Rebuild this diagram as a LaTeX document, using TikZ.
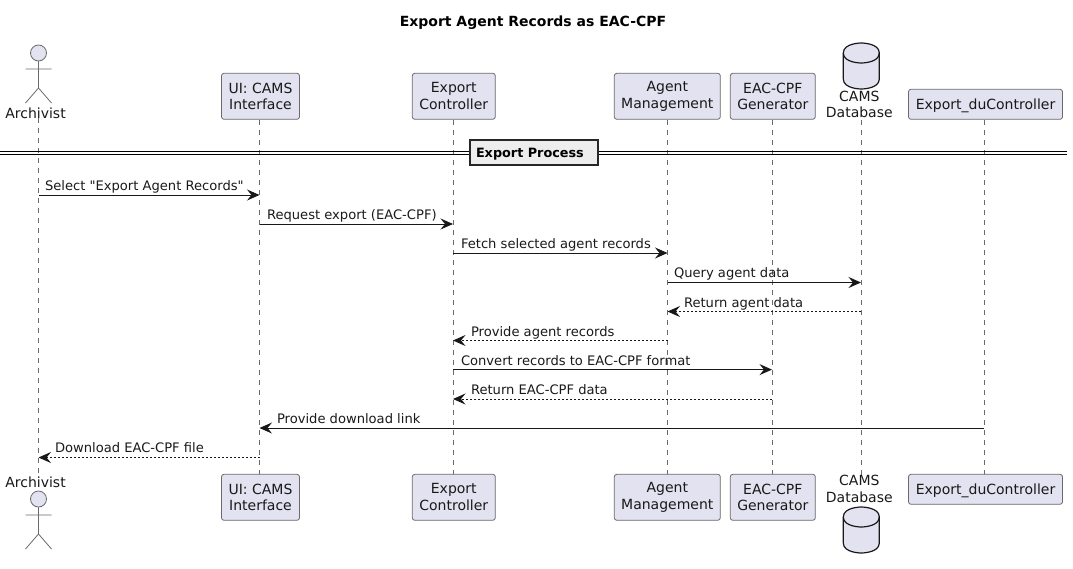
\documentclass[tikz,border=0pt]{standalone}
\usepackage{fontspec}
\newfontfamily\dv{DejaVu Sans}
\usetikzlibrary{arrows.meta}
\definecolor{partfill}{HTML}{E2E2F0}
\definecolor{partline}{HTML}{6A6A6A}
\definecolor{msgline}{HTML}{181818}
\tikzset{
  x=1pt,y=-1pt,
  every node/.style={font=\dv\fontsize{14}{16.7}\selectfont,text=black!90,inner sep=0pt,outer sep=0pt},
  part/.style={draw=partline,fill=partfill,line width=.8pt,rounded corners=2.5pt,align=center,anchor=center},
  actorline/.style={draw=partline,line width=.8pt},
  life/.style={draw=partline,line width=.6pt,dash pattern=on 5pt off 5pt},
  dbshape/.style={draw=msgline,fill=partfill,line width=1.2pt},
  msg/.style={draw=msgline,line width=1pt,-{Stealth[length=12.5pt,width=11pt,inset=4.5pt]}},
  ret/.style={msg,dash pattern=on 2pt off 2pt},
  lab/.style={anchor=base west,font=\dv\fontsize{13.1}{15}\selectfont},
  lbl/.style={align=center,anchor=center},
}
\newcommand{\stick}[2]{%
  \draw[actorline,fill=partfill] (#1,#2+8) circle (8);
  \draw[actorline] (#1,#2+16) -- (#1,#2+43) (#1-13,#2+24) -- (#1+13,#2+24) (#1-13,#2+58) -- (#1,#2+43) -- (#1+13,#2+58);}
\newcommand{\cyl}[2]{%
  \draw[dbshape] (#1-18,#2+10) .. controls (#1-18,#2) and (#1,#2) .. (#1,#2)
    .. controls (#1,#2) and (#1+18,#2) .. (#1+18,#2+10)
    -- (#1+18,#2+36) .. controls (#1+18,#2+46) and (#1,#2+46) .. (#1,#2+46)
    .. controls (#1,#2+46) and (#1-18,#2+46) .. (#1-18,#2+36) -- cycle;
  \draw[dbshape,fill=none] (#1-18,#2+10) .. controls (#1-18,#2+20) and (#1,#2+20) .. (#1,#2+20)
    .. controls (#1,#2+20) and (#1+18,#2+20) .. (#1+18,#2+10);}
\newcommand{\lowered}[1]{\raisebox{-5.2pt}[0pt][0pt]{#1}}
\begin{document}
\begin{tikzpicture}
\useasboundingbox (0,0) rectangle (1073,568);
\node[font=\dv\fontsize{14}{16}\selectfont\bfseries,text=black] (title) at (533,23) {Export Agent Records as EAC-CPF};
% lifelines
\coordinate (a1) at (38.5,118); \coordinate (a2) at (38.5,475);
\coordinate (u1) at (259.5,120); \coordinate (u2) at (259.5,475);
\coordinate (e1) at (453,120); \coordinate (e2) at (453,475);
\coordinate (m1) at (667.5,120); \coordinate (m2) at (667.5,475);
\coordinate (g1) at (772,120); \coordinate (g2) at (772,475);
\coordinate (d1) at (861,120); \coordinate (d2) at (861,475);
\coordinate (c1) at (984,120); \coordinate (c2) at (984,475);
\foreach \p in {a,u,e,m,g,d,c} \draw[life] (\p1) -- (\p2);
% top participants
\stick{38.5}{45}
\node[lbl] (at) at (35.5,113) {Archivist};
\node[part,minimum width=78pt,minimum height=46pt] (ut) at (260.5,96.3) {UI: CAMS\\Interface};
\node[part,minimum width=83pt,minimum height=46pt] (et) at (453.8,96.3) {Export\\Controller};
\node[part,minimum width=106pt,minimum height=46pt] (mt) at (667.3,96.3) {Agent\\Management};
\node[part,minimum width=85pt,minimum height=46pt] (gt) at (772.8,96.3) {EAC-CPF\\Generator};
\cyl{861.3}{43}
\node[lbl] (dt) at (859.3,104.5) {CAMS\\Database};
\node[part,minimum width=154pt,minimum height=30pt] (ct) at (985.5,104.3) {\lowered{Export\_duController}};
% bottom participants
\node[lbl] (ab) at (35.5,482) {Archivist};
\stick{38.5}{491}
\node[part,minimum width=78pt,minimum height=46pt] (ub) at (260.5,497.3) {UI: CAMS\\Interface};
\node[part,minimum width=83pt,minimum height=46pt] (eb) at (453.8,497.3) {Export\\Controller};
\node[part,minimum width=106pt,minimum height=46pt] (mb) at (667.3,497.3) {Agent\\Management};
\node[part,minimum width=85pt,minimum height=46pt] (gb) at (772.8,497.3) {EAC-CPF\\Generator};
\node[lbl] (db) at (859.3,489) {CAMS\\Database};
\cyl{861.3}{507}
\node[part,minimum width=154pt,minimum height=30pt] (cb) at (985.5,489.3) {\lowered{Export\_duController}};
% divider
\coordinate (dl) at (0,151.5); \coordinate (dr) at (1067,151.5);
\coordinate (dl2) at (0,154.5); \coordinate (dr2) at (1067,154.5);
\draw[black,line width=1.1pt] (dl) -- (dr) (dl2) -- (dr2);
\node[draw=black!85,line width=2pt,fill=black!7,minimum width=128pt,minimum height=24.4pt] (div) at (533.5,152.5) {};
\node[anchor=west,font=\dv\fontsize{12.8}{15}\selectfont\bfseries,text=black] (divt) at (476,154.5) {Export Process};
% messages
\coordinate (y1a) at (38.5,195); \coordinate (y1b) at (259.5,195);
\draw[msg] (y1a) -- (y1b);
\node[lab] at (45,190) {Select "Export Agent Records"};
\coordinate (y2a) at (259.5,224); \coordinate (y2b) at (453,224);
\draw[msg] (y2a) -- (y2b);
\node[lab] at (267,219) {Request export (EAC-CPF)};
\coordinate (y3a) at (453,253); \coordinate (y3b) at (667.5,253);
\draw[msg] (y3a) -- (y3b);
\node[lab] at (461,248) {Fetch selected agent records};
\coordinate (y4a) at (667.5,282.5); \coordinate (y4b) at (861,282.5);
\draw[msg] (y4a) -- (y4b);
\node[lab] at (674,277.5) {Query agent data};
\coordinate (y5a) at (861,311.5); \coordinate (y5b) at (667.5,311.5);
\draw[ret] (y5a) -- (y5b);
\node[lab] at (684,307) {Return agent data};
\coordinate (y6a) at (667.5,340.5); \coordinate (y6b) at (453,340.5);
\draw[ret] (y6a) -- (y6b);
\node[lab] at (471,336) {Provide agent records};
\coordinate (y7a) at (453,369.6); \coordinate (y7b) at (772,369.6);
\draw[msg] (y7a) -- (y7b);
\node[lab] at (461,365) {Convert records to EAC-CPF format};
\coordinate (y8a) at (772,399); \coordinate (y8b) at (453,399);
\draw[ret] (y8a) -- (y8b);
\node[lab] at (471,394) {Return EAC-CPF data};
\coordinate (y9a) at (984,428); \coordinate (y9b) at (259.5,428);
\draw[msg] (y9a) -- (y9b);
\node[lab] at (277,423) {Provide download link};
\coordinate (y10a) at (259.5,457.5); \coordinate (y10b) at (38.5,457.5);
\draw[ret] (y10a) -- (y10b);
\node[lab] at (55,452.5) {Download EAC-CPF file};
\end{tikzpicture}
\end{document}
